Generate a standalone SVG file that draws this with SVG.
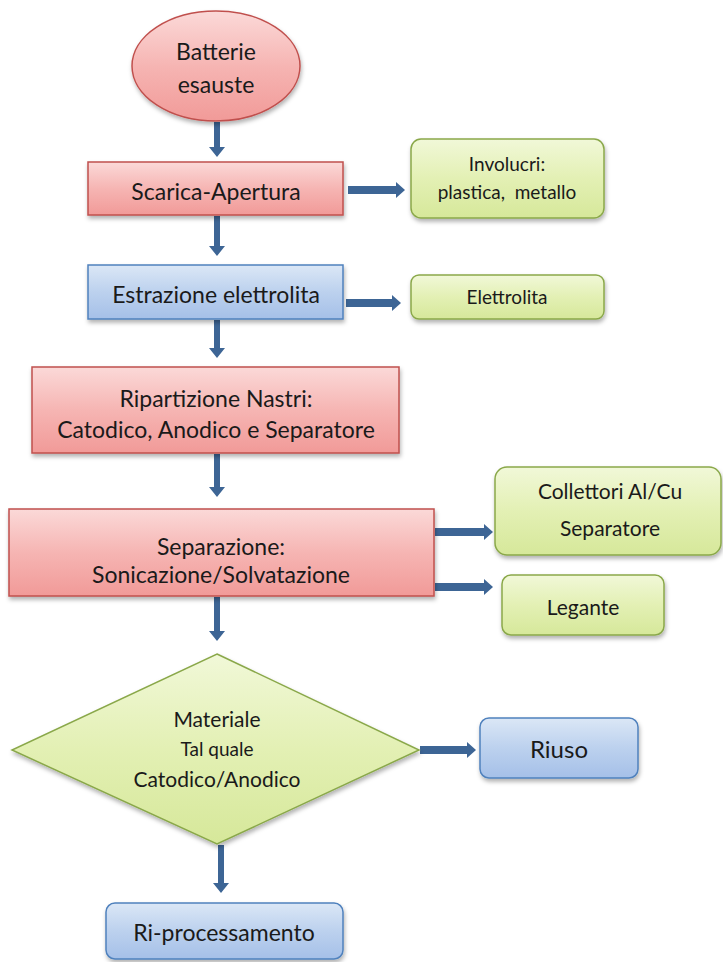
<svg xmlns="http://www.w3.org/2000/svg" width="723" height="962" viewBox="0 0 723 962">
<defs>
<linearGradient id="gRed" x1="0" y1="0" x2="0" y2="1"><stop offset="0" stop-color="#fbd9d8"/><stop offset="0.5" stop-color="#f6b5b3"/><stop offset="1" stop-color="#f19a98"/></linearGradient>
<linearGradient id="gBlue" x1="0" y1="0" x2="0" y2="1"><stop offset="0" stop-color="#dbe7f6"/><stop offset="0.5" stop-color="#bcd1ee"/><stop offset="1" stop-color="#a5c0e8"/></linearGradient>
<linearGradient id="gGreen" x1="0" y1="0" x2="0" y2="1"><stop offset="0" stop-color="#f1f8d8"/><stop offset="0.5" stop-color="#e3f0b4"/><stop offset="1" stop-color="#d6e89a"/></linearGradient>
<filter id="sh" x="-10%" y="-10%" width="125%" height="135%"><feDropShadow dx="1" dy="3" stdDeviation="2" flood-color="#000" flood-opacity="0.3"/></filter>
<style>
.red{fill:url(#gRed);stroke:#c0504d;stroke-width:1.5;filter:url(#sh)}
.blue{fill:url(#gBlue);stroke:#4f81bd;stroke-width:1.5;filter:url(#sh)}
.green{fill:url(#gGreen);stroke:#8aa84a;stroke-width:1.5;filter:url(#sh)}
text{font-family:Lato,"Open Sans","Liberation Sans",sans-serif;fill:#1a1a1a;text-anchor:middle}
.arr{fill:#3d6595}
</style>
</defs>
<rect width="723" height="962" fill="#fff"/>
<g id="connectors">
<polygon class="arr" points="214,122 220,122 220,147 225,147 217,157 209,147 214,147"/>
<polygon class="arr" points="348,186 396,186 396,182 405,190 396,198 396,194 348,194"/>
<polygon class="arr" points="214,216 220,216 220,246 225,246 217,256 209,246 214,246"/>
<polygon class="arr" points="346,299 392,299 392,295 401,303 392,311 392,307 346,307"/>
<polygon class="arr" points="214,320 220,320 220,348 225,348 217,358 209,348 214,348"/>
<polygon class="arr" points="214,454 220,454 220,487 225,487 217,497 209,487 214,487"/>
<polygon class="arr" points="435,528 484,528 484,524 493,532 484,540 484,536 435,536"/>
<polygon class="arr" points="435,583 484,583 484,579 493,587 484,595 484,591 435,591"/>
<polygon class="arr" points="214,597 220,597 220,631 225,631 217,641 209,631 214,631"/>
<polygon class="arr" points="420,746 467,746 467,742 476,750 467,758 467,754 420,754"/>
<polygon class="arr" points="218,845 224,845 224,883 229,883 221,893 213,883 218,883"/>
</g>
<g id="batterie">
<ellipse class="red" cx="216" cy="66" rx="84" ry="55"/>
<text x="216" y="60" font-size="23">Batterie</text>
<text x="216" y="93" font-size="23">esauste</text>
</g>
<g id="scarica">
<rect class="red" x="88" y="162" width="255" height="53"/>
<text x="216" y="200" font-size="23">Scarica-Apertura</text>
</g>
<g id="involucri">
<rect class="green" x="411" y="139" width="193" height="79" rx="10"/>
<text x="507" y="171" font-size="19">Involucri:</text>
<text x="507" y="199" font-size="19" xml:space="preserve">plastica,  metallo</text>
</g>
<g id="estrazione">
<rect class="blue" x="88" y="265" width="255" height="54"/>
<text x="216" y="303" font-size="23">Estrazione elettrolita</text>
</g>
<g id="elettrolita">
<rect class="green" x="411" y="275" width="193" height="44" rx="8"/>
<text x="507" y="304" font-size="19">Elettrolita</text>
</g>
<g id="ripartizione">
<rect class="red" x="32" y="367" width="367" height="86"/>
<text x="216" y="407" font-size="23">Ripartizione Nastri:</text>
<text x="216" y="438" font-size="23">Catodico, Anodico e Separatore</text>
</g>
<g id="separazione">
<rect class="red" x="9" y="509" width="425" height="87"/>
<text x="221" y="555" font-size="23">Separazione:</text>
<text x="221" y="583" font-size="23">Sonicazione/Solvatazione</text>
</g>
<g id="collettori">
<rect class="green" x="495" y="467" width="226" height="88" rx="12"/>
<text x="610" y="499" font-size="21">Collettori Al/Cu</text>
<text x="610" y="536" font-size="21">Separatore</text>
</g>
<g id="legante">
<rect class="green" x="502" y="575" width="162" height="60" rx="9"/>
<text x="583" y="615" font-size="21">Legante</text>
</g>
<g id="materiale">
<polygon class="green" points="217,654 419,750 217,844 12,750"/>
<text x="217" y="727" font-size="21">Materiale</text>
<text x="217" y="756" font-size="19">Tal quale</text>
<text x="217" y="787" font-size="21">Catodico/Anodico</text>
</g>
<g id="riuso">
<rect class="blue" x="480" y="718" width="158" height="60" rx="9"/>
<text x="559" y="758" font-size="24">Riuso</text>
</g>
<g id="riprocessamento">
<rect class="blue" x="106" y="903" width="237" height="56" rx="9"/>
<text x="224" y="941" font-size="23">Ri-processamento</text>
</g>
</svg>
